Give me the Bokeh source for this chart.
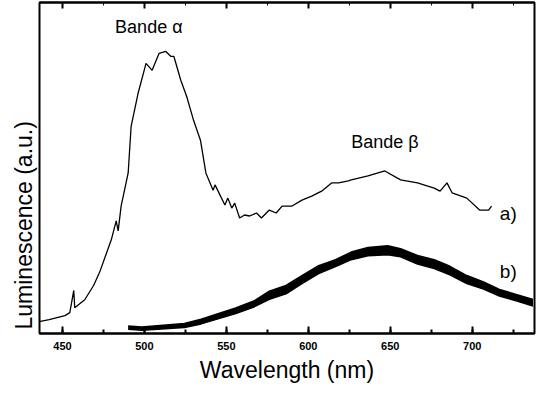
from bokeh.plotting import figure
from bokeh.models import Range1d, LinearAxis, SingleIntervalTicker, Label, Title, CustomJSTickFormatter
from bokeh.embed import file_html
from bokeh.resources import INLINE

# Curve a) : wavelength (nm) and luminescence (a.u.)
a_wl = [435.8, 441.9, 451.5, 454.5, 456.9, 457.5, 463.6, 469.0, 472.6, 479.8, 482.8, 484.0,
        485.8, 490.1, 491.9, 496.1, 501.0, 504.7, 508.9, 513.1, 516.2, 518.0, 522.2, 525.8,
        530.0, 534.2, 537.5, 541.9, 543.1, 549.1, 550.9, 553.3, 555.1, 558.1, 561.1, 564.2,
        568.4, 571.4, 576.2, 580.4, 584.0, 590.1, 596.1, 602.1, 608.1, 614.2, 618.4, 624.4,
        626.2, 636.4, 646.7, 656.3, 666.6, 676.8, 680.4, 684.6, 687.7, 696.7, 704.5, 710.0,
        711.8]
a_val = [3.6, 4.2, 5.4, 6.3, 13.0, 7.8, 10.2, 14.5, 18.4, 28.3, 34.0, 31.0,
         38.5, 48.5, 62.6, 72.5, 81.6, 79.5, 84.6, 85.2, 83.7, 83.7, 76.5, 71.6,
         64.4, 58.4, 48.5, 43.3, 44.9, 38.8, 40.9, 37.9, 39.4, 34.9, 35.8, 35.5,
         36.4, 34.9, 37.3, 36.4, 38.5, 38.5, 40.3, 41.5, 43.0, 45.5, 45.5, 46.1,
         46.4, 47.6, 49.1, 46.4, 45.5, 43.9, 43.0, 45.5, 42.5, 40.9, 37.3, 37.3,
         38.5]

# Curve b) : noisy band, lower and upper edges as read
b_wl = [490.1, 498.5, 524.4, 534.6, 555.7, 567.2, 576.2, 586.4, 596.1, 606.3, 616.6, 626.2,
        636.4, 648.5, 656.3, 666.6, 676.8, 686.4, 696.7, 706.9, 716.6, 726.8, 737.1]
b_hi = [2.3, 2.0, 3.0, 4.3, 7.7, 9.9, 12.8, 14.5, 17.5, 20.5, 22.3, 24.6,
        26.0, 26.5, 25.6, 23.6, 22.3, 20.3, 17.5, 15.6, 13.3, 11.8, 10.3]
b_lo = [1.3, 1.0, 1.8, 2.9, 6.0, 8.1, 10.3, 12.0, 15.1, 18.1, 20.2, 22.3,
        23.5, 23.8, 23.2, 21.0, 19.6, 17.7, 15.1, 13.4, 11.3, 9.9, 8.3]

FONT = "Liberation Sans"

p = figure(width=536, height=385, output_backend="svg", toolbar_location=None,
           x_range=Range1d(436, 738), y_range=Range1d(0, 100),
           min_border_left=39, min_border_right=2, min_border_top=2, min_border_bottom=52)
p.xgrid.visible = False
p.ygrid.visible = False
p.outline_line_color = "black"
p.outline_line_width = 2
p.background_fill_color = "white"
p.border_fill_color = "white"
p.yaxis.visible = False

# bottom axis
xa = p.xaxis[0]
xa.ticker = SingleIntervalTicker(interval=50, num_minor_ticks=2)
xa.major_tick_in = 7
xa.major_tick_out = 0
xa.minor_tick_in = 4
xa.minor_tick_out = 0
xa.axis_line_width = 2
xa.major_tick_line_width = 2
xa.minor_tick_line_width = 2
xa.major_label_text_font = FONT
xa.major_label_text_font_style = "bold"
xa.major_label_text_font_size = "11px"
xa.major_label_standoff = 8
xa.major_label_text_color = "black"
xa.axis_label = "Wavelength (nm)"
xa.axis_label_text_font = FONT
xa.axis_label_text_font_style = "normal"
xa.axis_label_text_font_size = "23px"
xa.axis_label_standoff = 4
xa.axis_label_text_color = "black"

# top axis (mirror ticks, no labels)
ta = LinearAxis(ticker=SingleIntervalTicker(interval=50, num_minor_ticks=2),
                formatter=CustomJSTickFormatter(code="return ''"))
ta.major_tick_in = 6
ta.major_tick_out = 0
ta.minor_tick_in = 3
ta.minor_tick_out = 0
ta.major_tick_line_width = 2
ta.minor_tick_line_width = 1
ta.major_label_standoff = 0
ta.axis_line_width = 2
p.add_layout(ta, "above")

# y label as a side title
p.add_layout(Title(text="Luminescence (a.u.)", align="left", offset=4, standoff=6,
                   text_font=FONT, text_font_size="23px", text_font_style="normal",
                   text_color="black"), "left")

p.varea(x=b_wl, y1=b_lo, y2=b_hi, fill_color="black")
p.line(b_wl, b_lo, line_color="black", line_width=1.5)
p.line(b_wl, b_hi, line_color="black", line_width=1.5)
p.line(a_wl, a_val, line_color="black", line_width=1.3)

def txt(x, y, s, size):
    p.add_layout(Label(x=x, y=y, text=s, text_font=FONT, text_font_size=size,
                       text_align="center", text_baseline="middle", text_color="black"))

txt(502.7, 92.5, "Bande \u03b1", "18px")
txt(646.7, 57.8, "Bande \u03b2", "18px")
txt(722, 36.4, "a)", "19px")
txt(722, 18.7, "b)", "19px")

open("out.html", "w").write(file_html(p, INLINE))
